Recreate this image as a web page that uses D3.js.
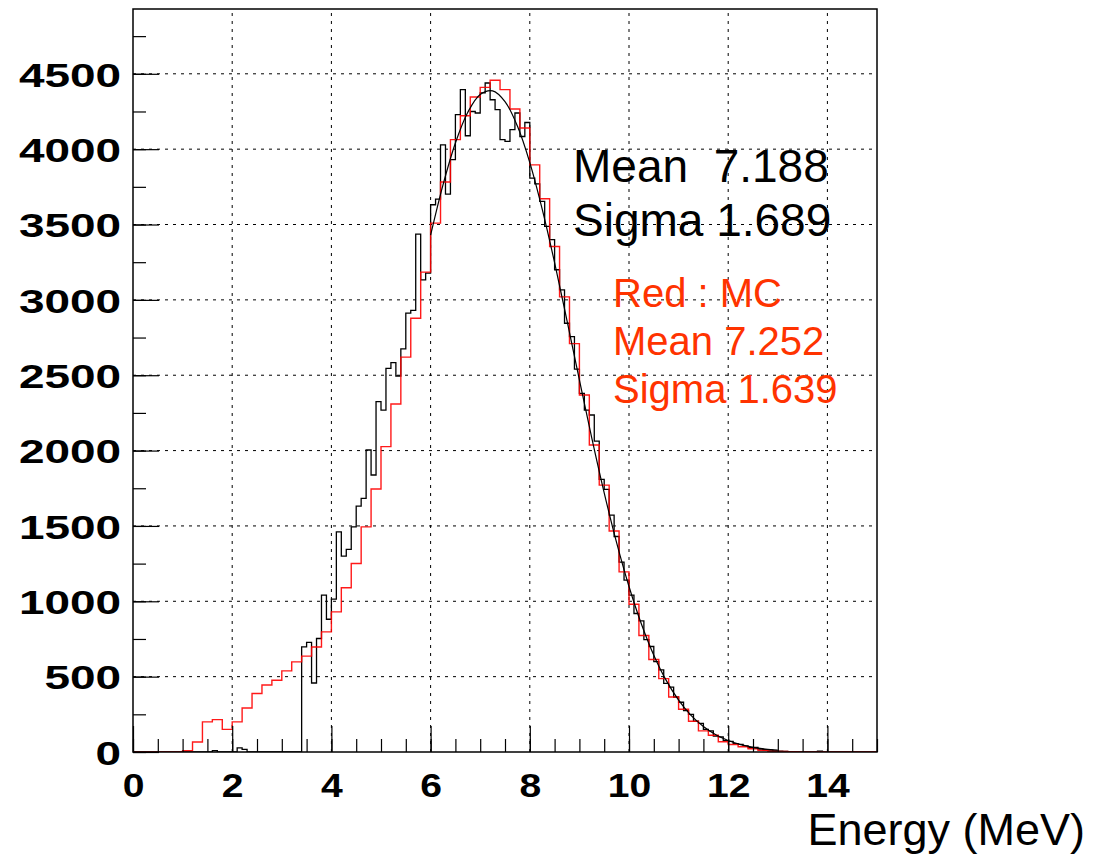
<!DOCTYPE html>
<html>
<head>
<meta charset="utf-8">
<script src="https://cdn.jsdelivr.net/npm/d3@7/dist/d3.min.js"></script>
<style>
  body { margin: 0; background: #fff; }
  svg { display: block; font-family: "Liberation Sans", Arial, sans-serif; }
</style>
</head>
<body>
<div id="chart"></div>
<script>
// Energy spectrum: data (black, 0.1 MeV bins) vs MC (red, 0.2 MeV bins) with fit curve

// Data histogram, 150 bins of 0.1 MeV from 0 to 15
const dataCounts = [
  0, 0, 0, 0, 0, 0, 0, 0, 0, 0,
  0, 0, 0, 0, 0, 0, 9, 0, 0, 0,
  0, 27, 18, 0, 0, 0, 0, 0, 0, 0,
  0, 0, 0, 0, 697, 727, 458, 753, 1041, 881,
  1014, 1461, 1300, 1344, 1494, 1632, 1683, 2004, 1838, 2325,
  2269, 2546, 2584, 2495, 2675, 2912, 2930, 3436, 3133, 3177,
  3631, 3669, 4029, 3702, 3930, 4229, 4395, 4089, 4250, 4240,
  4373, 4439, 4328, 4262, 4063, 4051, 4129, 4240, 4084, 4177,
  3808, 3770, 3653, 3487, 3400, 3200, 3066, 2845, 2756, 2540,
  2380, 2269, 2236, 2063, 1809, 1743, 1572, 1430, 1260, 1140,
  1041, 919, 870, 745, 700, 600, 545, 455, 430, 365,
  330, 275, 250, 205, 190, 150, 140, 105, 100, 75,
  70, 55, 50, 40, 30, 30, 20, 15, 12, 8,
  6, 4, 3, 0, 0, 0, 0, 0, 5, 0,
  0, 0, 0, 0, 0, 0, 0, 0, 0, 0
];

// MC histogram, 75 bins of 0.2 MeV from 0 to 15
const mcCounts = [
  0, 0, 0, 0, 0, 8, 66, 200, 215, 150,
  200, 292, 388, 445, 476, 538, 598, 636, 697, 797,
  930, 1090, 1251, 1494, 1745, 2026, 2309, 2620, 2878, 3184,
  3509, 3782, 4063, 4222, 4346, 4410, 4457, 4395, 4266, 4140,
  3896, 3671, 3354, 3020, 2710, 2369, 2037, 1771, 1466, 1195,
  980, 773, 614, 487, 365, 284, 204, 140, 111, 68,
  50, 35, 22, 11, 5, 4, 2, 0, 0, 0,
  0, 0, 0, 0, 0
];

// Fit curve
const fitX = [6.0, 6.25, 6.5, 6.75, 7.0, 7.25, 7.5, 7.75, 8.0, 8.25, 8.5, 8.75, 9.0, 9.25, 9.5,
  9.75, 10.0, 10.25, 10.5, 10.75, 11.0, 11.25, 11.5, 11.75, 12.0, 12.25, 12.5, 12.75, 13.0];
const fitY = [3429, 3763, 4041, 4245, 4363, 4387, 4316, 4153, 3911, 3602, 3247, 2863, 2469, 2083, 1720,
  1389, 1098, 849, 642, 475, 344, 243, 169, 114, 76, 49, 31, 19, 12];

const xTicks = [0, 2, 4, 6, 8, 10, 12, 14];
const xMinorTicks = d3.range(0, 15.01, 0.5);
const yTicks = [0, 500, 1000, 1500, 2000, 2500, 3000, 3500, 4000, 4500];
const yMinorTicks = d3.range(0, 4930, 250);

const dataStats = ['Mean  7.188', 'Sigma 1.689'];
const mcStats = ['Red : MC', 'Mean 7.252', 'Sigma 1.639'];

// Layout
const W = 1093, H = 856;
const plot = { left: 133, top: 9, right: 877, bottom: 752 };

const svg = d3.select('#chart')
  .append('svg')
  .attr('width', W)
  .attr('height', H);

const x = d3.scaleLinear().domain([0, 15]).range([plot.left, plot.right]);
const y = d3.scaleLinear().domain([0, 4930]).range([plot.bottom, plot.top]);

// Grid
const grid = svg.append('g').attr('class', 'grid')
  .attr('stroke', '#000').attr('stroke-width', 1).attr('stroke-dasharray', '3,5');
grid.selectAll('.gx').data(xTicks.slice(1)).enter().append('line')
  .attr('x1', d => x(d)).attr('x2', d => x(d))
  .attr('y1', plot.bottom).attr('y2', plot.top);
grid.selectAll('.gy').data(yTicks.slice(1)).enter().append('line')
  .attr('x1', plot.left).attr('x2', plot.right)
  .attr('y1', d => y(d)).attr('y2', d => y(d));

// Histograms
svg.append('clipPath').attr('id', 'clip').append('rect')
  .attr('x', plot.left).attr('y', plot.top)
  .attr('width', plot.right - plot.left).attr('height', plot.bottom - plot.top);

function stepPoints(counts, w) {
  const pts = [];
  counts.forEach((c, i) => {
    pts.push([i * w, c]);
    pts.push([(i + 1) * w, c]);
  });
  return pts;
}

const line = d3.line().x(d => x(d[0])).y(d => y(d[1]));

svg.append('path')
  .datum(stepPoints(dataCounts, 0.1))
  .attr('clip-path', 'url(#clip)')
  .attr('fill', 'none')
  .attr('stroke', '#000')
  .attr('stroke-width', 1.3)
  .attr('d', line);

svg.append('path')
  .datum(stepPoints(mcCounts, 0.2))
  .attr('clip-path', 'url(#clip)')
  .attr('fill', 'none')
  .attr('stroke', '#ff0000')
  .attr('stroke-width', 1.4)
  .attr('stroke-opacity', 0.9)
  .attr('d', line);

// Fit curve
svg.append('path')
  .datum(fitX.map((v, i) => [v, fitY[i]]))
  .attr('fill', 'none')
  .attr('stroke', '#000')
  .attr('stroke-width', 1.2)
  .attr('d', d3.line().x(d => x(d[0])).y(d => y(d[1])).curve(d3.curveCatmullRom));

// Axes (ticks point into the frame)
svg.append('g')
  .attr('class', 'y-axis')
  .attr('transform', `translate(${plot.left},0)`)
  .call(d3.axisLeft(y).tickValues(yTicks).tickSize(-26).tickFormat(d3.format('d')));
svg.append('g')
  .attr('transform', `translate(${plot.left},0)`)
  .call(d3.axisLeft(y).tickValues(yMinorTicks).tickSize(-13).tickFormat(''));

svg.append('g')
  .attr('class', 'x-axis')
  .attr('transform', `translate(0,${plot.bottom})`)
  .call(d3.axisBottom(x).tickValues(xTicks).tickSize(-26).tickFormat(d3.format('d')));
svg.append('g')
  .attr('transform', `translate(0,${plot.bottom})`)
  .call(d3.axisBottom(x).tickValues(xMinorTicks).tickSize(-13).tickFormat(''));

svg.selectAll('.domain').remove();
svg.selectAll('.tick line').attr('stroke', '#000').attr('stroke-width', 1.2);
svg.selectAll('.tick text')
  .attr('fill', '#000')
  .style('font-family', '"Liberation Sans", Arial, sans-serif')
  .style('font-weight', 'bold')
  .style('font-size', '34px');

// wide bold digits as in the original
svg.selectAll('.y-axis .tick text')
  .attr('x', 0).attr('dy', '0.36em')
  .attr('transform', 'translate(-12,0) scale(1.35,1)');
svg.selectAll('.x-axis .tick text')
  .attr('y', 0).attr('dy', 0)
  .attr('transform', 'translate(0,45) scale(1.15,1)');

// Frame
svg.append('rect')
  .attr('x', plot.left).attr('y', plot.top)
  .attr('width', plot.right - plot.left).attr('height', plot.bottom - plot.top)
  .attr('fill', 'none').attr('stroke', '#000').attr('stroke-width', 1.5);

// Stats text
svg.selectAll('.stat-data').data(dataStats).enter().append('text')
  .attr('x', 573).attr('y', (d, i) => 182 + i * 54)
  .style('font-size', '46px').style('white-space', 'pre')
  .attr('fill', '#000')
  .text(d => d);

svg.selectAll('.stat-mc').data(mcStats).enter().append('text')
  .attr('x', 613).attr('y', (d, i) => 307 + i * 48)
  .style('font-size', '40px').style('white-space', 'pre')
  .attr('fill', '#ff3300')
  .text(d => d);

// Axis title
svg.append('text')
  .attr('x', 1085).attr('y', 845)
  .attr('text-anchor', 'end')
  .style('font-size', '45px')
  .attr('fill', '#000')
  .text('Energy (MeV)');
</script>
</body>
</html>
